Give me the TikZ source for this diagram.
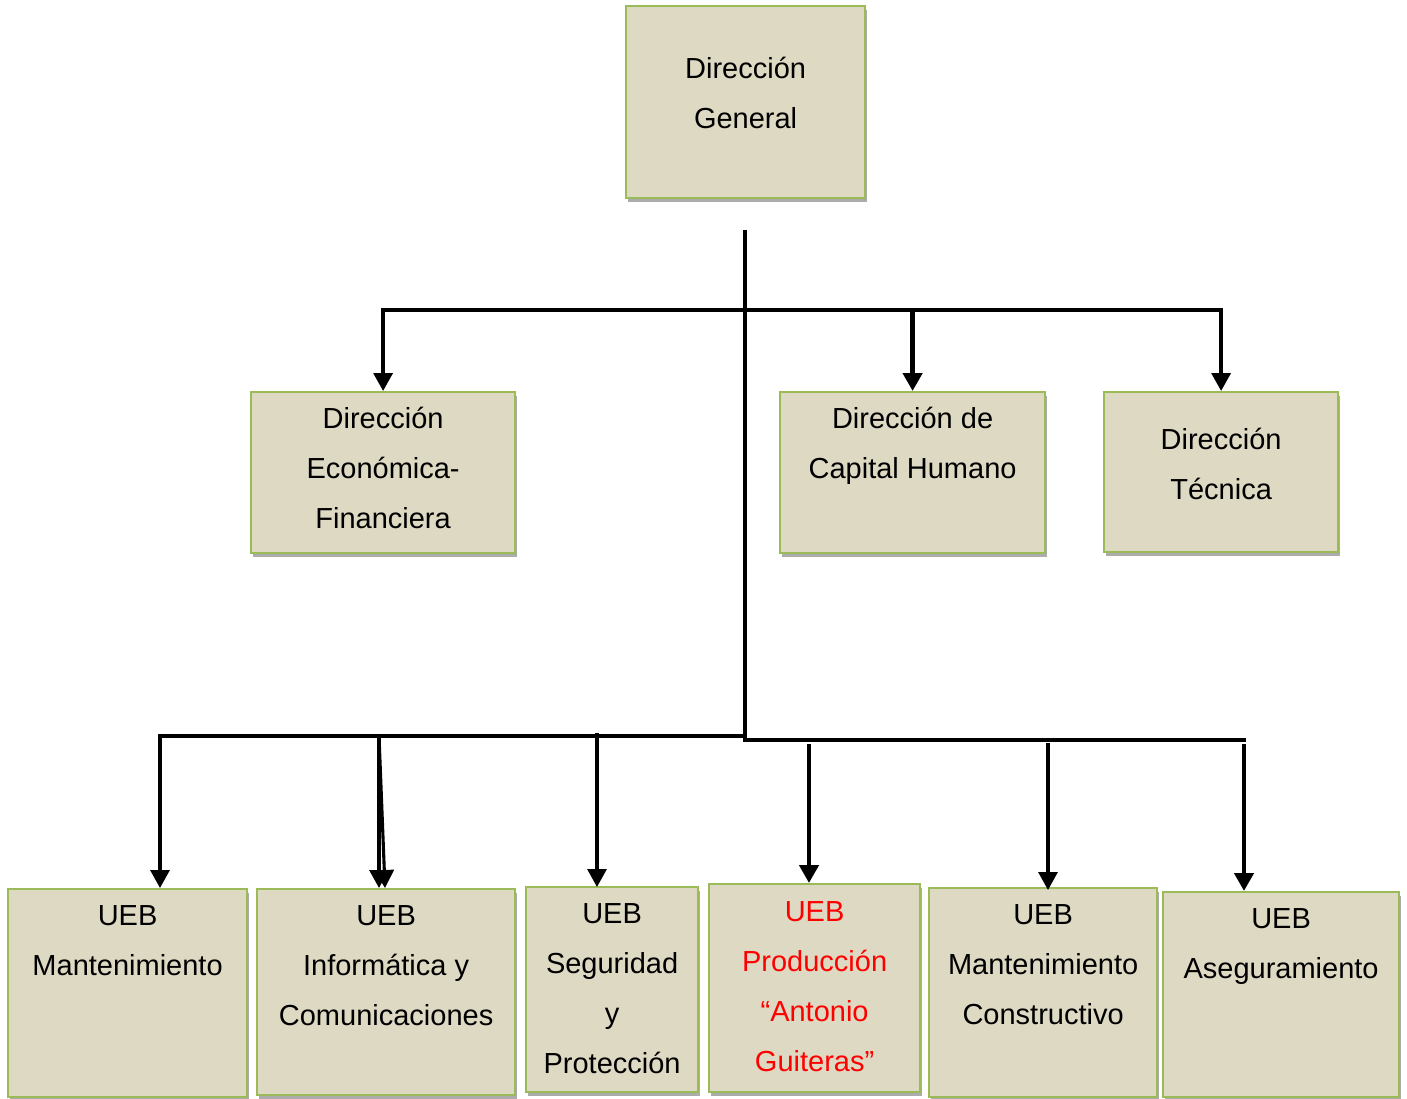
\documentclass[tikz,border=0pt]{standalone}
\usepackage{fontspec}
\setmainfont{Liberation Sans}
\usetikzlibrary{arrows.meta,shadows}
\definecolor{boxfill}{HTML}{DDD9C3}
\definecolor{boxedge}{HTML}{9BBB59}
% box body: width, height, first baseline depth, lines
\newcommand\orgbody[4]{\parbox[t][#2][t]{#1}{\centering\rule{0pt}{#3}#4\par}}
\begin{document}
\begin{tikzpicture}[x=1pt,y=-1pt,
  orgbox/.style={draw=boxedge, line width=2.2pt, fill=boxfill, inner sep=0pt,
    anchor=north west, font=\fontsize{29}{50}\selectfont,
    drop shadow={shadow xshift=1.5pt, shadow yshift=-3.5pt, opacity=0.65}},
  bus/.style={line width=3.4pt, line cap=rect},
  feed/.style={line width=3.4pt, -{Triangle[length=18pt,width=19pt]}},
  heavyfeed/.style={feed, line width=4.4pt},
  lightfeed/.style={feed, line width=3.1pt},
]
\useasboundingbox[fill=white] (0,0) rectangle (1407,1099);

% top level
\node[orgbox] (dg) at (625,5) {\orgbody{239pt}{192pt}{72pt}{Dirección\\General}};

% second level
\node[orgbox] (ef) at (250,391) {\orgbody{264pt}{161pt}{36pt}{Dirección\\Económica-\\Financiera}};
\node[orgbox] (ch) at (779,391) {\orgbody{265pt}{161pt}{36pt}{Dirección de\\Capital Humano}};
\node[orgbox] (tec) at (1103,391) {\orgbody{234pt}{160pt}{57pt}{Dirección\\Técnica}};

% business units
\node[orgbox] (b1) at (7,888) {\orgbody{239pt}{208pt}{36pt}{UEB\\Mantenimiento}};
\node[orgbox] (b2) at (256,888) {\orgbody{258pt}{206pt}{36pt}{UEB\\Informática y\\Comunicaciones}};
\node[orgbox] (b3) at (525,886) {\orgbody{172pt}{205pt}{36pt}{UEB\\Seguridad\\y\\Protección}};
\node[orgbox, text=red] (b4) at (708,883) {\orgbody{211pt}{208pt}{37pt}{UEB\\Producción\\“Antonio\\Guiteras”}};
\node[orgbox] (b5) at (928,887) {\orgbody{228pt}{209pt}{36pt}{UEB\\Mantenimiento\\Constructivo}};
\node[orgbox] (b6) at (1162,891) {\orgbody{236pt}{205pt}{36pt}{UEB\\Aseguramiento}};

% trunk and buses
\coordinate (trunk) at (745,230);
\coordinate (upper) at (745,310);
\coordinate (lowerL) at (745,736);
\coordinate (lowerR) at (745,740);
\coordinate (endL) at (160,736);
\coordinate (endR) at (1244,740);

\draw[line width=3.4pt] (trunk) -- (lowerR);
\draw[bus] (upper -| ef.north) -- (upper -| tec.north);
\draw[bus, line width=4.2pt] (endL) -- (lowerL);
\draw[bus, line width=4.2pt] (lowerR) -- (endR);

% second level feeds
\draw[feed] (upper -| ef.north) -- (ef.north);
\draw[heavyfeed] (upper -| ch.north) -- (ch.north);
\draw[feed] (upper -| tec.north) -- (tec.north);

% business unit feeds
\coordinate (d1) at (160,736);
\coordinate (d2) at (379,736);
\coordinate (d3) at (597,733);
\coordinate (d4) at (809,744);
\coordinate (d5) at (1048,743);
\coordinate (d6) at (1244,744);

\draw[feed] (d1) -- (d1 |- b1.north);
\draw[lightfeed] (d2) -- (d2 |- b2.north);
\draw[lightfeed] (d2) -- ([xshift=6pt]d2 |- b2.north);
\draw[lightfeed] (d3) -- ([yshift=-1pt]d3 |- b3.north);
\draw[heavyfeed] (d4) -- (d4 |- b4.north);
\draw[lightfeed] (d5) -- ([yshift=-3pt]d5 |- b5.north);
\draw[heavyfeed] (d6) -- (d6 |- b6.north);
\end{tikzpicture}
\end{document}
